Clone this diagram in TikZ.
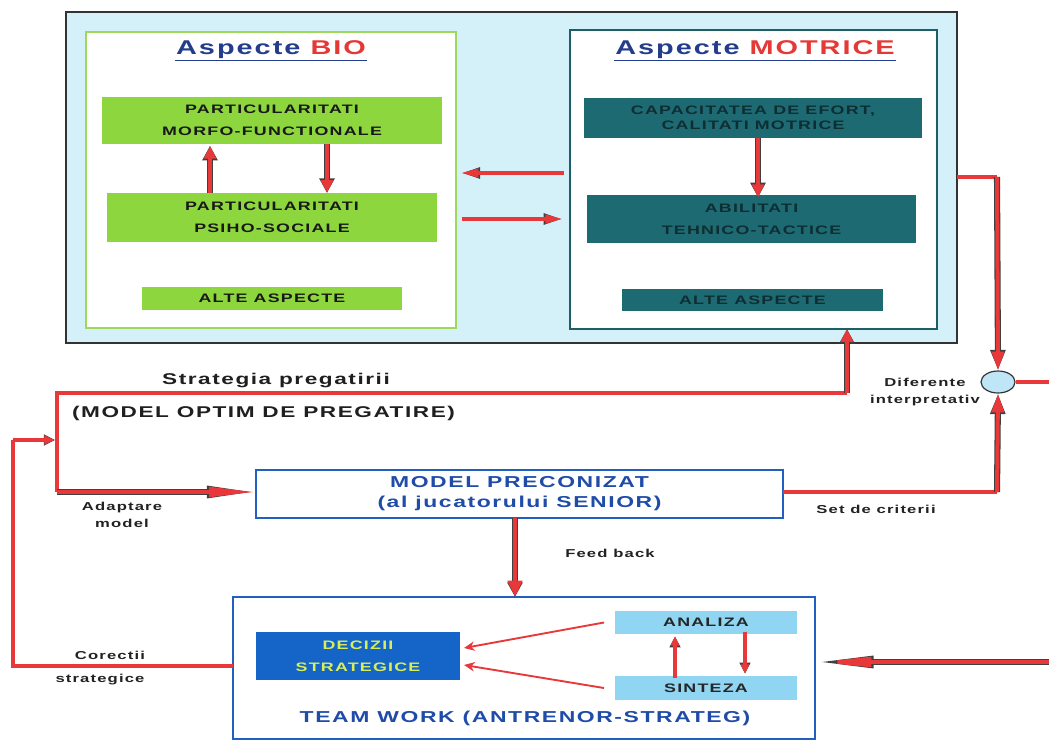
\documentclass[tikz,border=0pt]{standalone}
\usepackage{fontspec}
\setmainfont{Liberation Sans}[FakeStretch=1.45,LetterSpace=10]
\usetikzlibrary{arrows.meta,fit,calc,shapes.geometric}
\definecolor{bgcyan}{HTML}{D4F1FA}
\definecolor{grnfill}{HTML}{8ED63E}
\definecolor{grnline}{HTML}{9ED95A}
\definecolor{tealfill}{HTML}{1E6A73}
\definecolor{tealline}{HTML}{1E5E66}
\definecolor{tealtext}{HTML}{0E2E33}
\definecolor{redA}{HTML}{E8383A}
\definecolor{blueline}{HTML}{2160C0}
\definecolor{bluetext}{HTML}{1E4CA8}
\definecolor{ttlblue}{HTML}{243C8C}
\definecolor{ttlred}{HTML}{E53935}
\definecolor{decfill}{HTML}{1565C8}
\definecolor{dectext}{HTML}{D8EE58}
\definecolor{anafill}{HTML}{90D5F2}
\definecolor{ellfill}{HTML}{BFE6F7}
\definecolor{lbl}{HTML}{222222}
\tikzset{
  nosep/.style={inner sep=0pt, outer sep=0pt},
  boxtext/.style={nosep, align=center, font=\fontsize{10.5}{19}\selectfont\bfseries},
  greenbox/.style={boxtext, fill=grnfill, text=black!90},
  tealbox/.style={boxtext, fill=tealfill, text=tealtext},
  lightbox/.style={boxtext, fill=anafill, text=black!85},
  titletext/.style={inner sep=1pt, font=\fontsize{17}{20}\selectfont\bfseries},
  bigtext/.style={font=\fontsize{13.3}{16}\selectfont\bfseries, text=black!88},
  lbltext/.style={font=\fontsize{9.8}{15}\selectfont\bfseries, text=lbl, align=center},
  redline/.style={draw=redA, line width=4.2pt},
  blockarrow/.style={draw=redA, line width=3.4pt, -{Triangle[length=11pt,width=10pt]},
     preaction={draw=black!75, line width=5.2pt, -{Triangle[length=12.5pt,width=12.5pt]}}},
  midarrow/.style={draw=redA, line width=2.8pt, -{Triangle[length=15pt,width=7pt]},
     preaction={draw=black!75, line width=4.2pt, -{Triangle[length=16.5pt,width=8.5pt]}}},
  longarrow/.style={draw=redA, line width=3.2pt, -{Triangle[length=40pt,width=8pt]},
     preaction={draw=black!75, line width=4.8pt, -{Triangle[length=42pt,width=9.5pt]}}},
  verylongarrow/.style={draw=redA, line width=3.2pt, -{Triangle[length=48pt,width=8pt]},
     preaction={draw=black!75, line width=4.8pt, -{Triangle[length=50pt,width=9.5pt]}}},
  tallarrow/.style={draw=redA, line width=3.4pt, -{Triangle[length=16pt,width=10pt]},
     preaction={draw=black!75, line width=5.2pt, -{Triangle[length=17.5pt,width=12pt]}}},
  smallarrow/.style={draw=redA, line width=2.6pt, -{Triangle[length=8pt,width=7pt]},
     preaction={draw=black!75, line width=4.2pt, -{Triangle[length=9.5pt,width=9pt]}}},
  thinarrow/.style={draw=redA, line width=1.6pt, -{Stealth[length=9pt,width=8pt]}},
}
\begin{document}
\begin{tikzpicture}[x=0.03cm,y=-0.03cm]
\useasboundingbox (0,0) rectangle (1049,741);

% ---------- top panel ----------
\node[nosep, fill=bgcyan, draw=black!80, line width=1.3pt, fit={(66,12) (957,343)}] (outer) {};
\node[nosep, fill=white, draw=grnline, line width=1.8pt, fit={(86,32) (456,328)}] (bio) {};
\node[nosep, fill=white, draw=tealline, line width=2.2pt, fit={(570,30) (937,329)}] (mot) {};

\node[titletext] (tbio) at (271,50) {\textcolor{ttlblue}{Aspecte} \textcolor{ttlred}{BIO}};
\draw[ttlblue, line width=0.8pt] (tbio.south west) -- (tbio.south east);
\node[titletext] (tmot) at (755,50) {\textcolor{ttlblue}{Aspecte} \textcolor{ttlred}{MOTRICE}};
\draw[ttlblue, line width=0.8pt] (tmot.south west) -- (tmot.south east);

\node[greenbox, minimum width=10.2cm, minimum height=1.41cm] (morfo) at (272,120.5) {PARTICULARITATI\\MORFO-FUNCTIONALE};
\node[greenbox, minimum width=9.9cm, minimum height=1.47cm] (psiho) at (272,217.5) {PARTICULARITATI\\PSIHO-SOCIALE};
\node[greenbox, minimum width=7.8cm, minimum height=0.69cm] (alteb) at (272,298.5) {ALTE ASPECTE};

\node[tealbox, font=\fontsize{10.5}{12.5}\selectfont\bfseries, minimum width=10.14cm, minimum height=1.2cm] (cap) at (753,118) {CAPACITATEA DE EFORT,\\CALITATI MOTRICE};
\node[tealbox, minimum width=9.87cm, minimum height=1.44cm] (abil) at (751.5,219) {ABILITATI\\TEHNICO-TACTICE};
\node[tealbox, minimum width=7.83cm, minimum height=0.66cm] (altem) at (752.5,300) {ALTE ASPECTE};

\draw[blockarrow] (210,0 |- psiho.north) -- ([yshift=-1.5pt]210,0 |- morfo.south);
\draw[blockarrow] (327,0 |- morfo.south) -- (327,0 |- psiho.north);
\draw[blockarrow] (758,0 |- cap.south) -- ([yshift=-2pt]758,0 |- abil.north);

\draw[midarrow] ([xshift=-5pt]mot.west |- 0,173) -- ([xshift=4pt]bio.east |- 0,173);
\draw[midarrow] ([xshift=5pt]bio.east |- 0,219) -- ([xshift=-6pt]mot.west |- 0,219);

% ---------- right side ----------
\node[ellipse, draw=black!80, line width=1pt, fill=ellfill, minimum width=1.02cm, minimum height=0.66cm, inner sep=0pt] (ell) at (998,382) {};
\coordinate (c1) at (997,177);
\draw[redline] (outer.east |- c1) -- (c1);
\draw[tallarrow] (c1) -- (ell.north);
\coordinate (edgeR) at (1049,382);
\draw[redline] (ell.east) -- (edgeR);
\coordinate (c2) at (997,492);
\node[lbltext] (dif) at (925,392) {Diferente\\interpretativ};

% ---------- strategy ----------
\coordinate (s1) at (57,393);
\coordinate (s2) at (847,393);
\coordinate (s3) at (57,492);
\node[bigtext] (strat) at (276,381) {Strategia pregatirii};
\node[bigtext, anchor=west] (optim) at (68,413) {(MODEL OPTIM DE PREGATIRE)};
\draw[redline] (s2) -- (s1) -- (s3);
\draw[blockarrow] (s2) -- (s2 |- mot.south);

\node[nosep, draw=blueline, line width=1.8pt, fill=white, minimum width=15.81cm, minimum height=1.44cm,
      font=\fontsize{13.5}{17}\selectfont\bfseries, text=bluetext, align=center] (model) at (519.5,494)
      {MODEL PRECONIZAT\\(al jucatorului SENIOR)};
\draw[longarrow] (s3) -- (model.west |- s3);
\node[lbltext] (adapt) at (122,515) {Adaptare\\model};

\draw[redline] (model.east |- c2) -- (c2);
\draw[tallarrow] (c2) -- (ell.south);
\node[lbltext] (crit) at (876,509) {Set de criterii};

% ---------- team work ----------
\node[nosep, draw=blueline, line width=1.8pt, fill=white, fit={(233,597) (815,739)}] (team) {};
\draw[blockarrow, -{Triangle[length=14pt,width=12pt]}] (515,0 |- model.south) -- (515,0 |- team.north);
\node[lbltext] (feed) at (610,553) {Feed back};

\node[boxtext, fill=decfill, text=dectext, minimum width=6.12cm, minimum height=1.44cm] (dec) at (358,656) {DECIZII\\STRATEGICE};
\node[lightbox, minimum width=5.46cm, minimum height=0.69cm] (ana) at (706,622.5) {ANALIZA};
\node[lightbox, minimum width=5.46cm, minimum height=0.72cm] (sin) at (706,688) {SINTEZA};
\node[font=\fontsize{13.5}{16}\selectfont\bfseries, text=bluetext] (tw) at (525,718) {TEAM WORK (ANTRENOR-STRATEG)};

\draw[smallarrow] ([yshift=-2pt]675,0 |- sin.north) -- ([yshift=-2pt]675,0 |- ana.south);
\draw[smallarrow] ([yshift=2pt]745,0 |- ana.south) -- ([yshift=2pt]745,0 |- sin.north);
\draw[thinarrow] ($(ana.west)+(-11,0)$) -- ($(dec.east)+(4,-8)$);
\draw[thinarrow] ($(sin.west)+(-11,0)$) -- ($(dec.east)+(4,9)$);

\coordinate (r1) at (1049,662);
\draw[verylongarrow] (r1) -- (team.east |- r1);

% ---------- correction loop ----------
\coordinate (l1) at (13,666);
\coordinate (l2) at (13,440);
\coordinate (l3) at (55,440);
\draw[redline] (team.west |- l1) -- (l1) -- (l2);
\draw[smallarrow, -{Triangle[length=9pt,width=7pt]}] (l2) -- (l3);
\node[lbltext] (cor1) at (110,655) {Corectii};
\node[lbltext] (cor2) at (100,680) {strategice};
\end{tikzpicture}
\end{document}
